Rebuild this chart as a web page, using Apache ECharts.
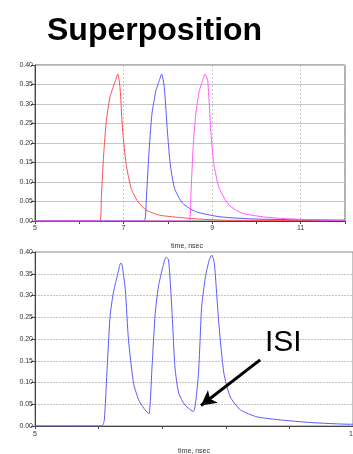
<!DOCTYPE html>
<html>
<head>
<meta charset="utf-8">
<script src="https://cdn.jsdelivr.net/npm/echarts@6/dist/echarts.min.js"></script>
<style>
  html, body { margin: 0; padding: 0; background: #ffffff; }
  #chart { width: 353px; height: 454px; }
</style>
</head>
<body>
<div id="chart"></div>
<script>
// Single pulses (time in nsec, amplitude)
const redTime = [5, 6.46, 6.50, 6.55, 6.61, 6.69, 6.76, 6.82, 6.87, 6.92, 6.98, 7.06, 7.17, 7.32, 7.51, 7.81, 8.26, 8.70, 9.30, 12];
const redValue = [0, 0, 0.067, 0.17, 0.256, 0.316, 0.342, 0.36, 0.377, 0.342, 0.23, 0.145, 0.084, 0.05, 0.028, 0.015, 0.009, 0.005, 0.002, 0.001];

const blueTime = [5, 7.46, 7.51, 7.57, 7.64, 7.73, 7.80, 7.86, 7.92, 7.99, 8.05, 8.15, 8.33, 8.63, 9.16, 9.98, 11.55, 12];
const blueValue = [0, 0, 0.05, 0.17, 0.274, 0.334, 0.358, 0.377, 0.342, 0.23, 0.15, 0.084, 0.046, 0.024, 0.011, 0.005, 0.0026, 0.002];

const magentaTime = [5, 8.48, 8.52, 8.57, 8.63, 8.71, 8.78, 8.84, 8.90, 8.97, 9.04, 9.16, 9.38, 9.68, 10.28, 11.03, 11.92, 12];
const magentaValue = [0, 0, 0.067, 0.188, 0.274, 0.334, 0.358, 0.377, 0.36, 0.23, 0.145, 0.084, 0.041, 0.02, 0.009, 0.004, 0.002, 0.002];

// Summed response of three closely spaced pulses
const sumTime = [5, 6.05, 6.09, 6.13, 6.18, 6.23, 6.29, 6.35, 6.37, 6.42, 6.47, 6.55, 6.63, 6.71, 6.79, 6.84, 6.89, 6.94, 7.01, 7.06, 7.10, 7.15, 7.20, 7.26, 7.36, 7.49, 7.57, 7.62, 7.68, 7.74, 7.78, 7.82, 7.89, 7.97, 8.07, 8.23, 8.49, 8.86, 9.33, 9.96, 10];
const sumValue = [0, 0, 0.014, 0.121, 0.251, 0.305, 0.343, 0.375, 0.37, 0.313, 0.198, 0.098, 0.06, 0.041, 0.028, 0.136, 0.259, 0.32, 0.366, 0.388, 0.382, 0.274, 0.136, 0.075, 0.048, 0.033, 0.121, 0.274, 0.343, 0.382, 0.393, 0.374, 0.236, 0.121, 0.067, 0.037, 0.021, 0.014, 0.008, 0.004, 0.004];

// Inter-spike interval annotation: arrow from label to the second trough
const isiArrowFrom = [8.54, 0.152];
const isiArrowTo = [7.61, 0.047];

const yTicks = { min: 0, max: 0.4, interval: 0.05 };

function pairs(xs, ys) { return xs.map((x, i) => [x, ys[i]]); }

const FONT = 'Liberation Sans';
const chart = echarts.init(document.getElementById('chart'), null, { renderer: 'canvas' });

function yAxis(gridIndex, splitType) {
  return {
    type: 'value', gridIndex: gridIndex,
    min: yTicks.min, max: yTicks.max, interval: yTicks.interval,
    axisLine: { show: true, lineStyle: { color: '#444', width: 1 } },
    axisTick: { show: true, length: 4, lineStyle: { color: '#444' } },
    axisLabel: { fontSize: 7, color: '#333', margin: 2, fontFamily: FONT,
      formatter: v => v.toFixed(2) },
    splitLine: { show: true, lineStyle: { color: '#c4c4c4', width: 1, type: splitType } }
  };
}

chart.setOption({
  animation: false,
  backgroundColor: '#ffffff',
  title: [
    { text: 'Superposition', left: 47, top: 15, padding: 0,
      textStyle: { fontSize: 32, fontWeight: 'bold', color: '#000', fontFamily: FONT } },
    { text: 'ISI', left: 265, top: 328, padding: 0,
      textStyle: { fontSize: 30, fontWeight: 'normal', color: '#000', fontFamily: FONT } }
  ],
  grid: [
    { left: 35, top: 65, width: 310, height: 156, show: true, borderColor: '#666', borderWidth: 1,
      outerBoundsMode: 'none' },
    { left: 35, top: 252, width: 318, height: 174, show: true, borderColor: '#888', borderWidth: 1,
      outerBoundsMode: 'none' }
  ],
  xAxis: [
    { type: 'value', gridIndex: 0, min: 5, max: 12, interval: 1,
      name: 'time, nsec', nameLocation: 'middle', nameGap: 22,
      nameTextStyle: { fontSize: 7, color: '#333', fontFamily: FONT, padding: [0, 6, 0, 0] },
      axisLine: { show: true, lineStyle: { color: '#444' } },
      axisTick: { show: true, length: 3, lineStyle: { color: '#444' } },
      axisLabel: { fontSize: 7, color: '#333', margin: 4, fontFamily: FONT,
        formatter: v => (v % 2 === 1 && v < 12) ? String(v) : '' },
      splitLine: { show: false } },
    { type: 'value', gridIndex: 0, min: 5, max: 12, interval: 2, position: 'bottom',
      axisLine: { show: false }, axisTick: { show: false }, axisLabel: { show: false },
      splitLine: { show: true, showMinLine: false, showMaxLine: false,
        lineStyle: { color: '#c8c8c8', type: [2, 2], width: 1 } } },
    { type: 'value', gridIndex: 1, min: 5, max: 10, interval: 1,
      name: 'time, nsec', nameLocation: 'middle', nameGap: 22,
      nameTextStyle: { fontSize: 7, color: '#333', fontFamily: FONT },
      axisLine: { show: true, lineStyle: { color: '#444' } },
      axisTick: { show: true, length: 3, lineStyle: { color: '#444' } },
      axisLabel: { fontSize: 7, color: '#333', margin: 5, fontFamily: FONT,
        alignMaxLabel: 'center', hideOverlap: false,
        formatter: v => (v === 5 || v === 10) ? String(v) : '' },
      splitLine: { show: false } }
  ],
  yAxis: [ yAxis(0, 'solid'), yAxis(1, [2, 1]) ],
  series: [
    { type: 'line', xAxisIndex: 0, yAxisIndex: 0, data: pairs(redTime, redValue),
      showSymbol: false, smooth: 0.2, lineStyle: { color: '#ff5050', width: 1 } },
    { type: 'line', xAxisIndex: 0, yAxisIndex: 0, data: pairs(blueTime, blueValue),
      showSymbol: false, smooth: 0.2, lineStyle: { color: '#5a5aff', width: 1 } },
    { type: 'line', xAxisIndex: 0, yAxisIndex: 0, data: pairs(magentaTime, magentaValue),
      showSymbol: false, smooth: 0.2, lineStyle: { color: '#ff5aff', width: 1 } },
    { type: 'line', xAxisIndex: 2, yAxisIndex: 1, data: pairs(sumTime, sumValue),
      showSymbol: false, smooth: 0.2, lineStyle: { color: '#5a5aff', width: 1 },
      markLine: {
        silent: true, symbol: ['none', 'arrow'], symbolSize: [12, 15],
        label: { show: false },
        lineStyle: { color: '#000', width: 3, type: 'solid' },
        data: [[ { coord: isiArrowFrom }, { coord: isiArrowTo } ]]
      } }
  ]
});
</script>
</body>
</html>
